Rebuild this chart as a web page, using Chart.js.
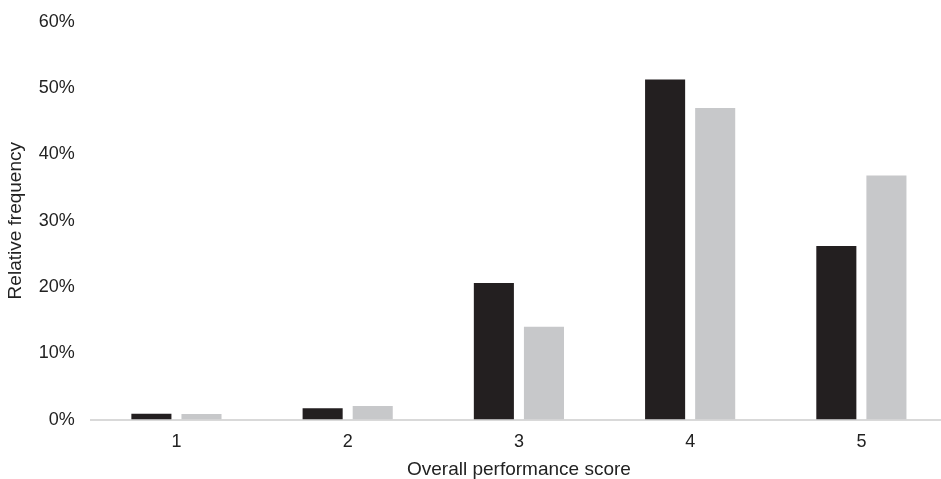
<!DOCTYPE html>
<html>
<head>
<meta charset="utf-8">
<script src="https://cdn.jsdelivr.net/npm/chart.js@4"></script>
<style>
  html, body { margin: 0; padding: 0; background: #fff; overflow: hidden; }
  #wrap { width: 947px; height: 484px; margin-top: -5px; }
</style>
</head>
<body>
<div id="wrap"><canvas id="barChart"></canvas></div>
<script>
let scores = ["1", "2", "3", "4", "5"];
let seriesA = [0.9, 1.7, 20.6, 51.3, 26.2]; // dark bars
let seriesB = [0.85, 2.05, 14.0, 47.0, 36.8]; // light bars
let yTicks = [0, 10, 20, 30, 40, 50, 60];

let ctx = document.getElementById("barChart").getContext("2d");

let barChart = new Chart(ctx, {
    type: "bar",
    data: {
        labels: scores,
        datasets: [{
            data: seriesA,
            backgroundColor: "#231f20"
        }, {
            data: seriesB,
            backgroundColor: "#c7c8ca"
        }]
    },
    options: {
        responsive: true,
        maintainAspectRatio: false,
        animation: false,
        categoryPercentage: 0.585,
        barPercentage: 0.8,
        layout: { padding: { top: 0, right: 0, left: 4, bottom: -2 } },
        plugins: {
            legend: { display: false },
            tooltip: { enabled: false }
        },
        scales: {
            x: {
                grid: { display: false, drawTicks: false },
                border: { color: "#d9d9d9", width: 2 },
                ticks: {
                    color: "#222",
                    font: { family: "Liberation Sans", size: 18 },
                    padding: 12
                },
                title: {
                    display: true,
                    text: "Overall performance score",
                    color: "#222",
                    font: { family: "Liberation Sans", size: 19 },
                    padding: { top: -7, bottom: 0 }
                }
            },
            y: {
                min: 0,
                max: 60,
                grid: { display: false, drawTicks: false },
                border: { display: false },
                afterBuildTicks: axis => { axis.ticks = yTicks.map(v => ({ value: v })); },
                ticks: {
                    color: "#222",
                    font: { family: "Liberation Sans", size: 18 },
                    padding: 16,
                    callback: v => v + "%"
                },
                title: {
                    display: true,
                    text: "Relative frequency",
                    color: "#222",
                    font: { family: "Liberation Sans", size: 19 },
                    padding: { top: 0, bottom: -4 }
                }
            }
        }
    }
});
</script>
</body>
</html>
